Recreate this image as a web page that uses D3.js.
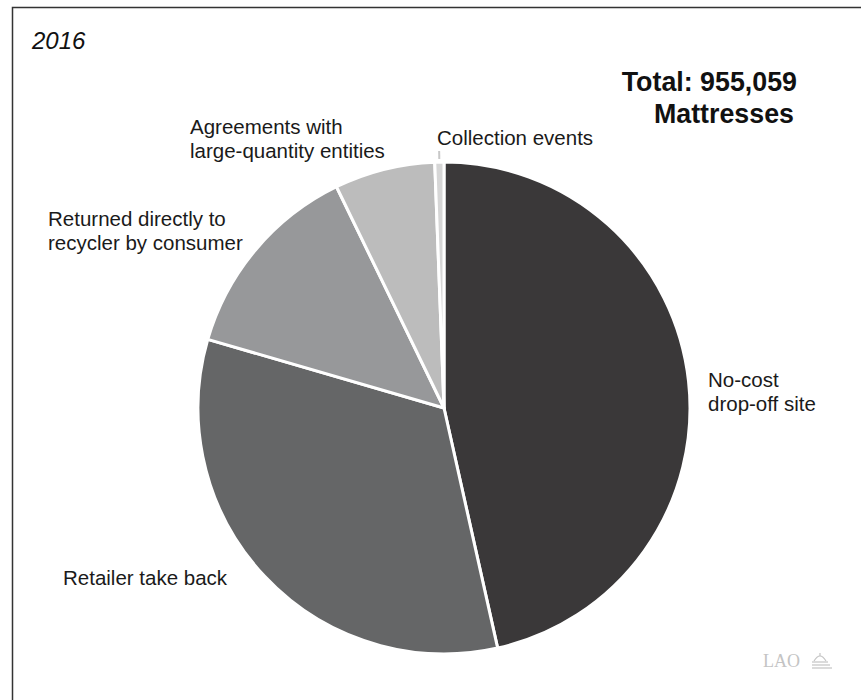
<!DOCTYPE html>
<html>
<head>
<meta charset="utf-8">
<script src="https://cdn.jsdelivr.net/npm/d3@7"></script>
<style>
  body { margin: 0; background: #fff; }
  svg { display: block; font-family: "Liberation Sans", Arial, Helvetica, sans-serif; }
</style>
</head>
<body>
<div id="chart"></div>
<script>
// Datos (porcentaje del total)
const categories = ["No-cost drop-off site", "Retailer take back", "Returned directly to recycler by consumer", "Agreements with large-quantity entities", "Collection events"];
const shares = [46.5, 33.0, 13.3, 6.6, 0.6];
const colors = ["#3a3839", "#656667", "#97989a", "#bcbcbc", "#d6d6d6"];

const width = 861, height = 700;
const cx = 444, cy = 408, radius = 246;

const svg = d3.select("#chart").append("svg")
    .attr("width", width).attr("height", height);

// marco (solo arriba e izquierda visibles)
svg.append("rect")
    .attr("x", 12.5).attr("y", 7.5)
    .attr("width", width).attr("height", height)
    .attr("fill", "none").attr("stroke", "#333").attr("stroke-width", 1.5);

const data = categories.map((c, i) => ({name: c, value: shares[i], color: colors[i]}));

const pie = d3.pie().value(d => d.value).sort(null);
const arc = d3.arc().innerRadius(0).outerRadius(radius);

const g = svg.append("g").attr("transform", `translate(${cx},${cy})`);

g.selectAll("path")
    .data(pie(data))
    .join("path")
    .attr("d", arc)
    .attr("fill", d => d.data.color)
    .attr("stroke", "#fff")
    .attr("stroke-width", 3)
    .attr("stroke-linejoin", "round");

// línea guía para "Collection events"
const arcs = pie(data);
const last = arcs[4];
const mid = (last.startAngle + last.endAngle) / 2;
g.append("line")
    .attr("x1", Math.sin(mid) * (radius + 3)).attr("y1", -Math.cos(mid) * (radius + 3))
    .attr("x2", Math.sin(mid) * (radius + 11)).attr("y2", -Math.cos(mid) * (radius + 11))
    .attr("stroke", "#c8c8c8").attr("stroke-width", 2);

// etiquetas
const labels = [
    {lines: ["No-cost", "drop-off site"], x: 708, y: 387},
    {lines: ["Retailer take back"], x: 63, y: 585},
    {lines: ["Returned directly to", "recycler by consumer"], x: 48, y: 226},
    {lines: ["Agreements with", "large-quantity entities"], x: 190, y: 134},
    {lines: ["Collection events"], x: 437, y: 145}
];

labels.forEach(l => {
    const t = svg.append("text")
        .attr("x", l.x).attr("y", l.y)
        .style("font-size", "20.5px")
        .style("fill", "#1a1a1a");
    l.lines.forEach((s, i) => {
        t.append("tspan").attr("x", l.x).attr("dy", i === 0 ? 0 : 24).text(s);
    });
});

svg.append("text")
    .attr("x", 32).attr("y", 49)
    .style("font-size", "24px").style("font-style", "italic")
    .style("fill", "#111")
    .text("2016");

svg.append("text")
    .attr("x", 797).attr("y", 91)
    .attr("text-anchor", "end")
    .style("font-size", "26.8px").style("font-weight", "bold")
    .style("fill", "#111")
    .text("Total: 955,059");

svg.append("text")
    .attr("x", 794).attr("y", 123)
    .attr("text-anchor", "end")
    .style("font-size", "26.8px").style("font-weight", "bold")
    .style("fill", "#111")
    .text("Mattresses");

// logo LAO
svg.append("text")
    .attr("x", 763).attr("y", 667)
    .style("font-family", "'Liberation Serif', 'DejaVu Serif', serif")
    .style("font-size", "18px")
    .style("fill", "#c4c4c4")
    .text("LAO");
const logo = svg.append("g").attr("transform", "translate(812,653)")
    .attr("fill", "none").attr("stroke", "#c4c4c4").attr("stroke-width", 1.2);
logo.append("path").attr("d", "M2,8 Q8,-2 14,8");
logo.append("line").attr("x1", 0).attr("y1", 9).attr("x2", 16).attr("y2", 9);
logo.append("line").attr("x1", 0).attr("y1", 12).attr("x2", 18).attr("y2", 12);
logo.append("line").attr("x1", 0).attr("y1", 15).attr("x2", 20).attr("y2", 15);
logo.append("line").attr("x1", 8).attr("y1", 0).attr("x2", 8).attr("y2", 3);
</script>
</body>
</html>
